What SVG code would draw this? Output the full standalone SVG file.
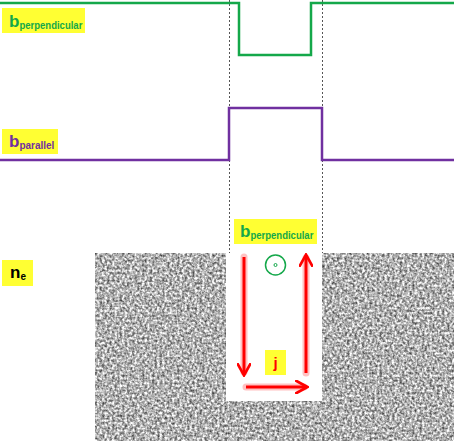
<svg xmlns="http://www.w3.org/2000/svg" width="454" height="441" viewBox="0 0 454 441">
<style>
.lbl{fill:#ffff33}
.t{font-family:"Liberation Sans",Arial,sans-serif;font-weight:bold}
.green{fill:#14a84a}
.purple{fill:#7030a0}
.dot{stroke:#555;stroke-width:1;stroke-dasharray:2 2;fill:none}
.red{stroke:#ff0000;stroke-width:3;fill:none}
.glow{stroke:#ff9999;stroke-width:7;fill:none;stroke-opacity:0.6;stroke-linecap:round}
</style>
<defs>
<filter id="noise" x="0" y="0" width="1" height="1" filterUnits="objectBoundingBox" color-interpolation-filters="sRGB">
<feTurbulence type="fractalNoise" baseFrequency="0.4" numOctaves="2" seed="3" result="n"/>
<feColorMatrix in="n" type="matrix" values="1.25 0 0 0 0.07  1.25 0 0 0 0.07  1.25 0 0 0 0.07  0 0 0 0 1"/>
</filter>
<marker id="ah" viewBox="0 0 10 10" refX="8" refY="5" markerWidth="4.5" markerHeight="4.5" orient="auto" markerUnits="strokeWidth">
<path d="M0,0 L9,5 L0,10" fill="none" stroke="#ff0000" stroke-width="2"/>
</marker>
</defs>

<g id="density">
<rect x="95" y="253" width="359" height="188" fill="#999" filter="url(#noise)"/>
<rect x="226" y="253" width="96" height="148" fill="#ffffff"/>
</g>

<g id="connectors">
<line class="dot" x1="229.5" y1="0" x2="229.5" y2="253"/>
<line class="dot" x1="322.5" y1="0" x2="322.5" y2="253"/>
<polyline points="0,3 239,3 239,55 311,55 311,3 454,3" fill="none" stroke="#14a84a" stroke-width="2.5"/>
<polyline points="0,160 229,160 229,108 322,108 322,160 454,160" fill="none" stroke="#7030a0" stroke-width="2.5"/>
<g id="current">
<line class="glow" x1="244" y1="257" x2="244" y2="372"/>
<line class="glow" x1="306" y1="373" x2="306" y2="258"/>
<line class="glow" x1="246" y1="387" x2="304" y2="387"/>
<line class="red" x1="244" y1="257" x2="244" y2="374" marker-end="url(#ah)"/>
<line class="red" x1="306" y1="373" x2="306" y2="256" marker-end="url(#ah)"/>
<line class="red" x1="246" y1="387" x2="306" y2="387" marker-end="url(#ah)"/>
</g>
</g>

<g id="label-bperp-top">
<rect class="lbl" x="2" y="8" width="83" height="25"/>
<text class="t green" x="9" y="27" font-size="17">b<tspan font-size="10" dy="2" textLength="63" lengthAdjust="spacingAndGlyphs">perpendicular</tspan></text>
</g>

<g id="label-bpar">
<rect class="lbl" x="2" y="129" width="56" height="25"/>
<text class="t purple" x="9" y="147" font-size="17">b<tspan font-size="10" dy="2" textLength="35" lengthAdjust="spacingAndGlyphs">parallel</tspan></text>
</g>

<g id="label-ne">
<rect class="lbl" x="2" y="260" width="31" height="26"/>
<text class="t" x="10" y="278" font-size="17" fill="#000">n<tspan font-size="10" dy="2">e</tspan></text>
</g>

<g id="label-bperp-mid">
<rect class="lbl" x="234" y="219" width="83" height="25"/>
<text class="t green" x="240" y="237" font-size="17">b<tspan font-size="10" dy="2" textLength="63" lengthAdjust="spacingAndGlyphs">perpendicular</tspan></text>
</g>

<g id="field-symbol">
<circle cx="275.5" cy="265" r="10" fill="none" stroke="#14a84a" stroke-width="1.5"/>
<circle cx="275.5" cy="265" r="1.5" fill="none" stroke="#14a84a" stroke-width="1"/>
</g>

<g id="label-j">
<rect class="lbl" x="265" y="350" width="21" height="25"/>
<text class="t" x="275.5" y="368" font-size="15" fill="#ff0000" text-anchor="middle">j</text>
</g>
</svg>
